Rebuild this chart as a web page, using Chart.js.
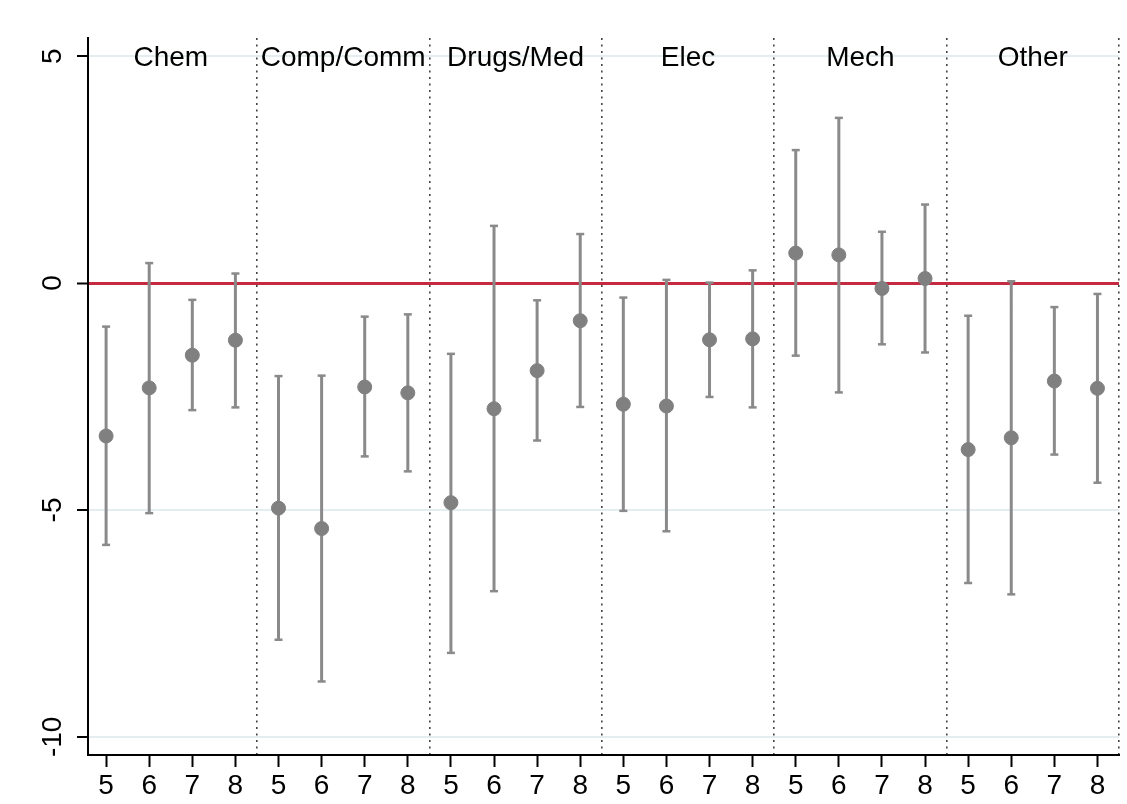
<!DOCTYPE html>
<html>
<head>
<meta charset="utf-8">
<script src="https://cdn.jsdelivr.net/npm/chart.js@4"></script>
<style>
  html, body { margin: 0; padding: 0; background: #ffffff; }
  #wrap { width: 1127px; height: 804px; position: relative; }
</style>
</head>
<body>
<div id="wrap"><canvas id="c"></canvas></div>
<script>
// ---- data ----
const groups = ['Chem', 'Comp/Comm', 'Drugs/Med', 'Elec', 'Mech', 'Other'];
const horizons = ['5', '6', '7', '8'];
const yTicks = [-10, -5, 0, 5];
const estimate = [
  -3.37, -2.31, -1.59, -1.26,
  -4.96, -5.41, -2.29, -2.42,
  -4.84, -2.77, -1.93, -0.83,
  -2.67, -2.71, -1.25, -1.23,
   0.66,  0.62, -0.12,  0.10,
  -3.67, -3.41, -2.16, -2.32
];
const lower = [
  -5.77, -5.07, -2.80, -2.74,
  -7.86, -8.78, -3.82, -4.15,
  -8.15, -6.79, -3.47, -2.73,
  -5.02, -5.47, -2.51, -2.74,
  -1.60, -2.41, -1.35, -1.53,
  -6.61, -6.86, -3.78, -4.40
];
const upper = [
  -0.96,  0.44, -0.37,  0.21,
  -2.05, -2.04, -0.74, -0.69,
  -1.56,  1.26, -0.38,  1.08,
  -0.32,  0.07,  0.01,  0.28,
   2.93,  3.64,  1.13,  1.73,
  -0.72,  0.04, -0.53, -0.24
];

// ---- derived tables ----
const nPer = horizons.length;
const nAll = groups.length * nPer;
const pointData = estimate.map((v, i) => ({ x: i, y: v }));
const barData = [];
for (let i = 0; i < nAll; i++) {
  barData.push({ x: i, y: lower[i] });
  barData.push({ x: i, y: upper[i] });
  barData.push({ x: i, y: null });
}
const sepValues = groups.map((g, k) => (k + 1) * nPer - 0.5);
const groupCenters = groups.map((g, k) => k * nPer + (nPer - 1) / 2);

const FONT = "'Liberation Sans', Arial, Helvetica, sans-serif";

const groupLabelPlugin = {
  id: 'groupLabels',
  afterDatasetsDraw(chart) {
    const ctx = chart.ctx;
    const xs = chart.scales.x, ys = chart.scales.y;
    ctx.save();
    ctx.font = '28px ' + FONT;
    ctx.fillStyle = '#000';
    ctx.textAlign = 'center';
    ctx.textBaseline = 'middle';
    groups.forEach((g, k) => {
      ctx.fillText(g, xs.getPixelForValue(groupCenters[k]), ys.getPixelForValue(yTicks[yTicks.length - 1]) + 2);
    });
    ctx.restore();
  }
};

new Chart(document.getElementById('c'), {
  data: {
    datasets: [
      {
        type: 'line',
        data: barData,
        borderColor: '#8a8a8a',
        borderWidth: 3,
        spanGaps: false,
        pointStyle: 'line',
        pointRadius: 4,
        pointBorderWidth: 2.5,
        pointBorderColor: '#8a8a8a',
        pointHoverRadius: 4,
        order: 2
      },
      {
        type: 'scatter',
        data: pointData,
        backgroundColor: '#808080',
        borderColor: '#808080',
        pointRadius: 7,
        pointHoverRadius: 7,
        order: 1
      }
    ]
  },
  options: {
    responsive: true,
    maintainAspectRatio: false,
    animation: false,
    events: [],
    layout: { padding: { top: 38, right: 7, left: 0, bottom: 0 } },
    plugins: { legend: { display: false }, tooltip: { enabled: false } },
    scales: {
      x: {
        type: 'linear',
        position: 'bottom',
        min: -0.42,
        max: nAll - 0.5,
        afterBuildTicks: (s) => { s.ticks = estimate.map((v, i) => ({ value: i })); },
        afterFit: (s) => { s.height = 49; },
        ticks: {
          autoSkip: false, maxRotation: 0, minRotation: 0,
          padding: 2,
          color: '#000',
          font: { family: FONT, size: 28 },
          callback: (v) => horizons[Math.round(v) % nPer]
        },
        grid: { drawOnChartArea: false, drawTicks: true, tickLength: 12, tickWidth: 2, tickColor: '#000' },
        border: { display: true, color: '#000', width: 2 }
      },
      x2: {
        type: 'linear',
        position: 'top',
        min: -0.42,
        max: nAll - 0.5,
        afterBuildTicks: (s) => { s.ticks = sepValues.map(v => ({ value: v })); },
        afterFit: (s) => { s.height = 0; },
        ticks: { display: false },
        grid: { drawOnChartArea: true, drawTicks: false, color: '#444', lineWidth: 1.6 },
        border: { display: false, dash: [2, 4.5] }
      },
      y: {
        type: 'linear',
        position: 'left',
        min: -10.4,
        max: 5.4,
        afterBuildTicks: (s) => { s.ticks = yTicks.map(v => ({ value: v })); },
        afterFit: (s) => { s.width = 88; },
        ticks: {
          minRotation: 90, maxRotation: 90,
          crossAlign: 'center',
          padding: 3,
          color: '#000',
          font: { family: FONT, size: 28 },
          callback: (v) => String(v)
        },
        grid: {
          color: (c) => (c.tick && c.tick.value === 0) ? '#c42a40' : '#e4eef0',
          lineWidth: (c) => (c.tick && c.tick.value === 0) ? 3 : 2,
          drawTicks: true, tickLength: 11, tickWidth: 2, tickColor: '#000'
        },
        border: { display: true, color: '#000', width: 2 }
      }
    }
  },
  plugins: [groupLabelPlugin]
});
</script>
</body>
</html>
